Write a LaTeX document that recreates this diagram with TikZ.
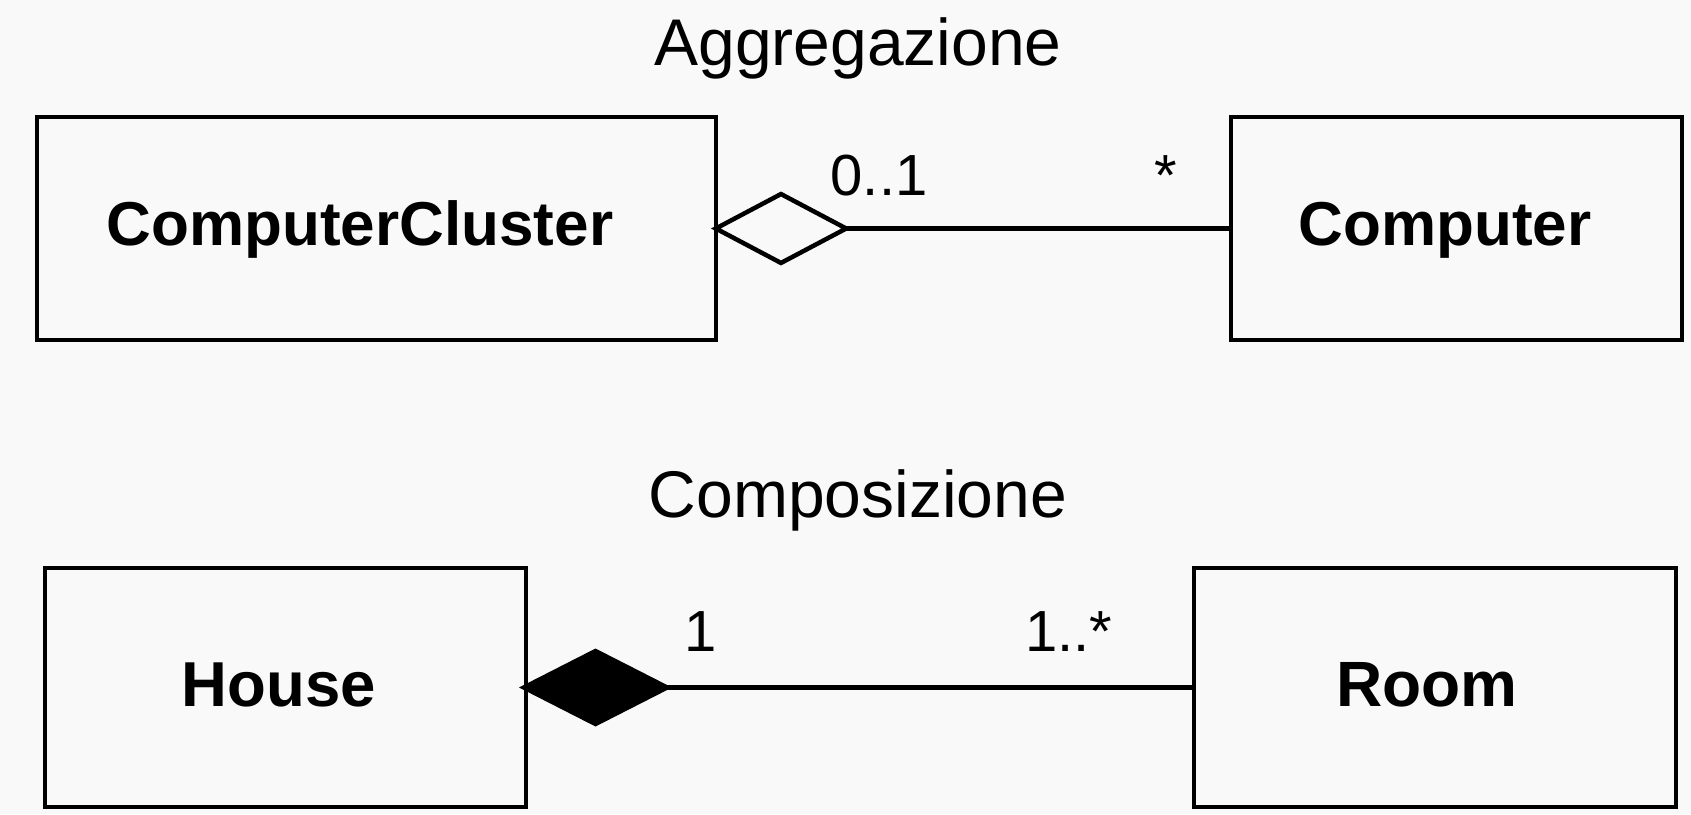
\documentclass[tikz,border=0pt]{standalone}
\usepackage{fontspec}
\setmainfont{Liberation Sans}
\usetikzlibrary{arrows.meta}
\definecolor{paper}{RGB}{249,249,249}
\begin{document}
\begin{tikzpicture}[x=1pt,y=-1pt,
  classbox/.style={draw=black, line width=4.5pt, inner sep=0pt, outer sep=0pt},
  classname/.style={font=\fontsize{62}{62}\selectfont\bfseries, anchor=base, inner sep=0pt},
  heading/.style={font=\fontsize{66}{66}\selectfont, anchor=base, inner sep=0pt},
  mult/.style={font=\fontsize{58}{58}\selectfont, anchor=base, inner sep=0pt},
  assoc/.style={line width=4.5pt},
  aggregation/.style={assoc, {Diamond[open, length=140pt, width=74pt]}-},
  composition/.style={assoc, {Diamond[fill=black, length=153pt, width=78pt]}-}
]
% page
\fill[paper] (0,0) rectangle (1691,814);
\useasboundingbox (0,0) rectangle (1691,814);

% aggregation example
\node[heading] (aggtitle) at (858,65) {Aggregazione};
\node[classbox, minimum width=679pt, minimum height=223pt] (cc) at (376.5,228.5) {};
\node[classname] (ccname) at (360,245) {ComputerCluster};
\node[classbox, minimum width=451pt, minimum height=223pt] (comp) at (1456.5,228.5) {};
\node[classname] (compname) at (1445,245) {Computer};
\draw[aggregation] ([xshift=-5pt]cc.east) -- (comp.west);
\node[mult] (m01) at (879,195) {0..1};
\node[mult] (mstar) at (1166,195) {*};

% composition example
\node[heading] (comptitle) at (858,517) {Composizione};
\node[classbox, minimum width=481pt, minimum height=239pt] (house) at (285.5,687.5) {};
\node[classname, font=\fontsize{63.5}{63.5}\selectfont\bfseries] (housename) at (279,706) {House};
\node[classbox, minimum width=482pt, minimum height=239pt] (room) at (1435,687.5) {};
\node[classname, font=\fontsize{64}{64}\selectfont\bfseries] (roomname) at (1427,706) {Room};
\draw[composition] ([xshift=-7pt]house.east) -- (room.west);
\node[mult] (m1) at (701,651) {1};
\node[mult] (m1star) at (1069,651) {1..*};
\end{tikzpicture}
\end{document}
